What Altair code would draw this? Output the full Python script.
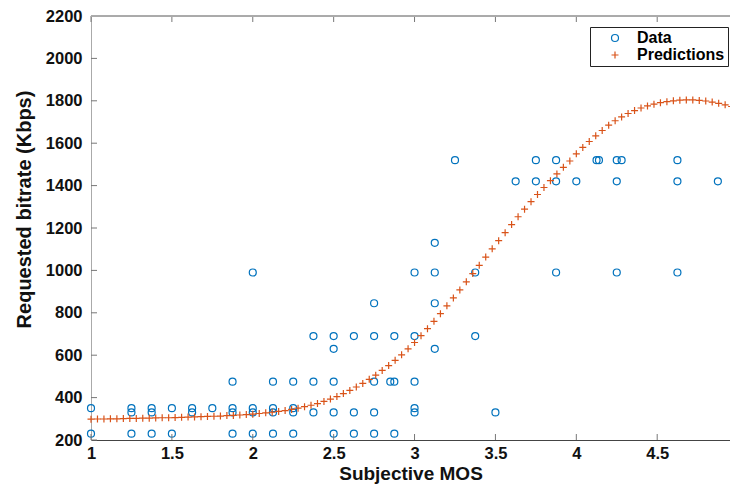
import altair as alt
import pandas as pd

# Observed data (Subjective MOS, requested bitrate in Kbps)
data_x = [1, 1,
          1.25, 1.25, 1.25,
          1.375, 1.375, 1.375,
          1.5, 1.5,
          1.625, 1.625,
          1.75,
          1.875, 1.875, 1.875, 1.875,
          2, 2, 2, 2,
          2.125, 2.125, 2.125, 2.125,
          2.25, 2.25, 2.25, 2.25,
          2.375, 2.375, 2.375,
          2.5, 2.5, 2.5, 2.5, 2.5,
          2.625, 2.625, 2.625,
          2.75, 2.75, 2.75, 2.75, 2.75,
          2.85,
          2.875, 2.875, 2.875,
          3, 3, 3, 3, 3,
          3.125, 3.125, 3.125, 3.125,
          3.25,
          3.375, 3.375,
          3.5,
          3.625,
          3.75, 3.75,
          3.875, 3.875, 3.875,
          4,
          4.125, 4.14,
          4.25, 4.25, 4.25, 4.28,
          4.625, 4.625, 4.625,
          4.875,
          5, 5]
data_y = [350, 230,
          350, 330, 230,
          350, 330, 230,
          350, 230,
          350, 330,
          350,
          475, 350, 330, 230,
          990, 350, 330, 230,
          475, 350, 330, 230,
          475, 350, 330, 230,
          690, 475, 330,
          690, 630, 475, 330, 230,
          690, 330, 230,
          845, 690, 475, 330, 230,
          475,
          690, 475, 230,
          990, 690, 475, 350, 330,
          1130, 990, 845, 630,
          1520,
          990, 690,
          330,
          1420,
          1520, 1420,
          1520, 1420, 990,
          1420,
          1520, 1520,
          1520, 1420, 990, 1520,
          1520, 1420, 990,
          1420,
          2050, 1130]

# Model predictions
pred_x = [1.00, 1.04, 1.08, 1.12, 1.16, 1.20, 1.24, 1.28, 1.32, 1.36,
          1.40, 1.44, 1.48, 1.52, 1.56, 1.60, 1.64, 1.68, 1.72, 1.76,
          1.80, 1.84, 1.88, 1.92, 1.96, 2.00, 2.04, 2.08, 2.12, 2.16,
          2.20, 2.24, 2.28, 2.32, 2.36, 2.40, 2.44, 2.48, 2.52, 2.56,
          2.60, 2.64, 2.68, 2.72, 2.76, 2.80, 2.84, 2.88, 2.92, 2.96,
          3.00, 3.04, 3.08, 3.12, 3.16, 3.20, 3.24, 3.28, 3.32, 3.36,
          3.40, 3.44, 3.48, 3.52, 3.56, 3.60, 3.64, 3.68, 3.72, 3.76,
          3.80, 3.84, 3.88, 3.92, 3.96, 4.00, 4.04, 4.08, 4.12, 4.16,
          4.20, 4.24, 4.28, 4.32, 4.36, 4.40, 4.44, 4.48, 4.52, 4.56,
          4.60, 4.64, 4.68, 4.72, 4.76, 4.80, 4.84, 4.88, 4.92, 4.96,
          5.00]
pred_y = [298, 299, 299, 300, 300, 301, 302, 302, 303, 303,
          304, 305, 305, 306, 307, 308, 309, 310, 311, 312,
          313, 315, 316, 318, 320, 322, 325, 328, 331, 335,
          339, 344, 350, 357, 364, 372, 382, 393, 405, 419,
          434, 450, 467, 486, 506, 528, 551, 576, 602, 630,
          660, 692, 725, 760, 796, 833, 870, 908, 946, 985,
          1024, 1063, 1102, 1140, 1178, 1216, 1253, 1289, 1324, 1358,
          1391, 1423, 1455, 1486, 1516, 1550, 1580, 1608, 1635, 1660,
          1685, 1706, 1724, 1740, 1754, 1766, 1776, 1784, 1791, 1796,
          1800, 1803, 1804, 1804, 1802, 1799, 1794, 1788, 1781, 1773,
          1765]

x_ticks = [1, 1.5, 2, 2.5, 3, 3.5, 4, 4.5, 5]
y_ticks = [200, 400, 600, 800, 1000, 1200, 1400, 1600, 1800, 2000, 2200]
series_names = ["Data", "Predictions"]
series_colors = ["#0072BD", "#D95319"]
PLUS = "M-1,0L1,0M0,-1L0,1"

df = pd.DataFrame({
    "mos": data_x + pred_x,
    "bitrate": data_y + pred_y,
    "series": ["Data"] * len(data_x) + ["Predictions"] * len(pred_x),
})

# The page leaves 722px for the chart; the plot is cut at the right like the reference.
W, H = 639, 424
FONT = "Liberation Sans"
xs = alt.Scale(domain=[1, 4.95], nice=False, zero=False)
ys = alt.Scale(domain=[200, 2200], nice=False, zero=False)

x_axis = alt.Axis(
    values=x_ticks, format="~g", title="Subjective MOS",
    titleFont=FONT, titleFontSize=19, titleFontWeight="bold", titleColor="#111",
    titleBaseline="alphabetic", titleY=39,
    labelFont=FONT, labelFontSize=16.5, labelFontWeight="bold", labelColor="#111",
    labelFlush=False, labelPadding=5, ticks=False, domainColor="#444", grid=False)
y_axis = alt.Axis(
    values=y_ticks, format="d", title="Requested bitrate (Kbps)",
    titleFont=FONT, titleFontSize=20, titleFontWeight="bold", titleColor="#111",
    titleAngle=270, titleAlign="center", titleBaseline="middle", titleX=-67, titleY=193,
    labelFont=FONT, labelFontSize=16.5, labelFontWeight="bold", labelColor="#111",
    labelPadding=9, ticks=False, domainColor="#aaaaaa", grid=False)

leg = alt.Legend(
    title=None, orient="none", legendX=499, legendY=11, direction="vertical",
    fillColor="white", strokeColor="#222222", padding=3, cornerRadius=0,
    symbolOffset=14, labelOffset=14, rowPadding=1,
    labelFont=FONT, labelFontSize=16, labelFontWeight="bold", labelColor="black",
    symbolSize=49, symbolStrokeWidth=1.2,
)

points = alt.Chart(df).mark_point(filled=False, size=49, strokeWidth=1.2, opacity=1).encode(
    x=alt.X("mos:Q", scale=xs, axis=x_axis, title="Subjective MOS"),
    y=alt.Y("bitrate:Q", scale=ys, axis=y_axis, title="Requested bitrate (Kbps)"),
    color=alt.Color("series:N", scale=alt.Scale(domain=series_names, range=series_colors), legend=leg),
    shape=alt.Shape("series:N", scale=alt.Scale(domain=series_names, range=["circle", PLUS]), legend=leg),
)

tx = pd.DataFrame({"mos": x_ticks})
ty = pd.DataFrame({"bitrate": y_ticks})
TC = "#777777"
XE = alt.X("mos:Q", scale=xs, axis=x_axis, title="Subjective MOS")
YE = alt.Y("bitrate:Q", scale=ys, axis=y_axis, title="Requested bitrate (Kbps)")
bottom_ticks = alt.Chart(tx).mark_rule(color=TC, strokeWidth=1).encode(
    x=XE, y=alt.value(H), y2=alt.value(H - 6))
top_ticks = alt.Chart(tx).mark_rule(color=TC, strokeWidth=1).encode(
    x=XE, y=alt.value(0), y2=alt.value(6))
left_ticks = alt.Chart(ty).mark_rule(color=TC, strokeWidth=1).encode(
    y=YE, x=alt.value(0), x2=alt.value(6))
top_border = alt.Chart(tx).mark_rule(color="#aaaaaa", strokeWidth=1).encode(
    x=alt.value(0), x2=alt.value(W), y=alt.value(0))

chart = alt.layer(points, bottom_ticks, top_ticks, left_ticks, top_border).properties(
    width=W, height=H,
    autosize=alt.AutoSizeParams(type="none"),
    padding={"left": 83, "top": 8, "right": 0, "bottom": 44},
    background="white",
).configure_view(strokeWidth=0)

chart.save("out.html", embed_options={"renderer": "svg", "actions": False})
